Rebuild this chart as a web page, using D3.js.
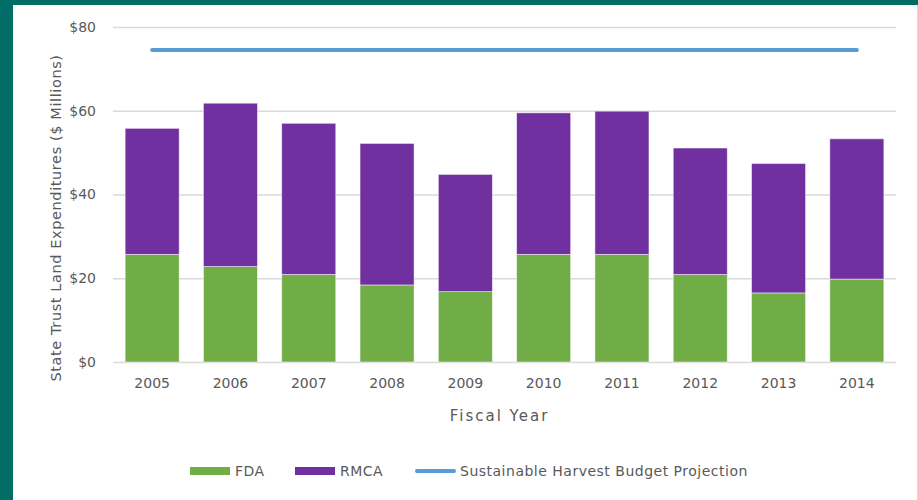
<!DOCTYPE html>
<html>
<head>
<meta charset="utf-8">
<script src="https://cdn.jsdelivr.net/npm/d3@7"></script>
<style>
  body { margin: 0; background: #006e66; }
  svg { display: block; }
  text { font-family: "DejaVu Sans", sans-serif; fill: #595959; }
</style>
</head>
<body>
<svg id="chart"></svg>
<script>
const years = ['2005', '2006', '2007', '2008', '2009', '2010', '2011', '2012', '2013', '2014'];
const fda = [25.7, 22.8, 20.9, 18.4, 16.8, 25.7, 25.7, 20.9, 16.5, 19.8];
const rmca = [30.1, 39.0, 36.1, 33.8, 28.0, 33.8, 34.2, 30.2, 30.9, 33.5];
const projection = [74.5, 74.5, 74.5, 74.5, 74.5, 74.5, 74.5, 74.5, 74.5, 74.5];
const yTicks = [0, 20, 40, 60, 80];

const width = 918, height = 500;
const margin = { top: 27, right: 22, bottom: 138, left: 113 };
const innerW = width - margin.left - margin.right;
const innerH = height - margin.top - margin.bottom;

const svg = d3.select('#chart').attr('width', width).attr('height', height);

// white panel inside teal frame
svg.append('rect')
    .attr('x', 13).attr('y', 5)
    .attr('width', width - 13).attr('height', height - 5)
    .attr('fill', '#ffffff');
svg.append('line')
    .attr('x1', 917.5).attr('x2', 917.5).attr('y1', 5).attr('y2', height)
    .attr('stroke', '#d9d9d9');

const chart = svg.append('g')
    .attr('transform', `translate(${margin.left}, ${margin.top})`);

const x = d3.scaleBand().domain(years).range([0, innerW]).paddingInner(0.31).paddingOuter(0.155);
const y = d3.scaleLinear().domain([0, 80]).range([innerH, 0]);

// gridlines
chart.append('g')
    .call(d3.axisLeft(y).tickValues(yTicks).tickSize(-innerW).tickFormat(d => '$' + d))
    .call(g => g.select('.domain').remove())
    .call(g => g.selectAll('.tick line').attr('stroke', '#d9d9d9').attr('stroke-width', 1.3))
    .call(g => g.selectAll('.tick text')
        .attr('x', -17)
        .style('font-size', '14px')
        .style('font-family', '"DejaVu Sans", sans-serif')
        .attr('fill', '#595959'));

// x axis labels
chart.append('g')
    .attr('transform', `translate(0, ${innerH})`)
    .call(d3.axisBottom(x).tickSize(0).tickPadding(16))
    .call(g => g.select('.domain').remove())
    .call(g => g.selectAll('.tick text')
        .style('font-size', '14px')
        .style('font-family', '"DejaVu Sans", sans-serif')
        .attr('fill', '#595959'));

// stacked bars
const rows = years.map((yr, i) => ({ year: yr, FDA: fda[i], RMCA: rmca[i] }));
const stack = d3.stack().keys(['FDA', 'RMCA'])(rows);
const colors = { FDA: '#70ad47', RMCA: '#7030a0' };

chart.selectAll('.layer')
    .data(stack)
    .join('g')
    .attr('fill', d => colors[d.key])
    .selectAll('rect')
    .data(d => d)
    .join('rect')
    .attr('x', d => x(d.data.year))
    .attr('y', d => y(d[1]))
    .attr('width', x.bandwidth())
    .attr('height', d => y(d[0]) - y(d[1]))
    .attr('stroke', '#ffffff')
    .attr('stroke-opacity', 0.6)
    .attr('stroke-width', 0.8);

// projection line
const line = d3.line()
    .x((d, i) => x(years[i]) + x.bandwidth() / 2)
    .y(d => y(d));
chart.append('path')
    .attr('d', line(projection))
    .attr('fill', 'none')
    .attr('stroke', '#5b9bd5')
    .attr('stroke-width', 4)
    .attr('stroke-linecap', 'round');

// axis titles
svg.append('text')
    .attr('transform', `translate(61, 218) rotate(-90)`)
    .attr('text-anchor', 'middle')
    .style('font-size', '14.5px')
    .style('letter-spacing', '0.6px')
    .text('State Trust Land Expenditures ($ Millions)');

svg.append('text')
    .attr('x', margin.left + innerW / 2 - 5)
    .attr('y', 421)
    .attr('text-anchor', 'middle')
    .style('font-size', '15px')
    .style('letter-spacing', '2px')
    .text('Fiscal Year');

// legend
const legend = svg.append('g').attr('transform', 'translate(190, 471)');
const items = [
    { label: 'FDA', color: '#70ad47', type: 'rect', x: 0 },
    { label: 'RMCA', color: '#7030a0', type: 'rect', x: 105 },
    { label: 'Sustainable Harvest Budget Projection', color: '#5b9bd5', type: 'line', x: 225 }
];
items.forEach(it => {
    const g = legend.append('g').attr('transform', `translate(${it.x}, 0)`);
    if (it.type === 'rect') {
        g.append('rect').attr('x', 0).attr('y', -4).attr('width', 40).attr('height', 8).attr('fill', it.color);
    } else {
        g.append('line').attr('x1', 2).attr('x2', 39).attr('y1', 0).attr('y2', 0)
            .attr('stroke', it.color).attr('stroke-width', 4).attr('stroke-linecap', 'round');
    }
    g.append('text')
        .attr('x', 45)
        .attr('y', 5)
        .style('font-size', '14px')
        .style('letter-spacing', '0.5px')
        .text(it.label);
});
</script>
</body>
</html>
